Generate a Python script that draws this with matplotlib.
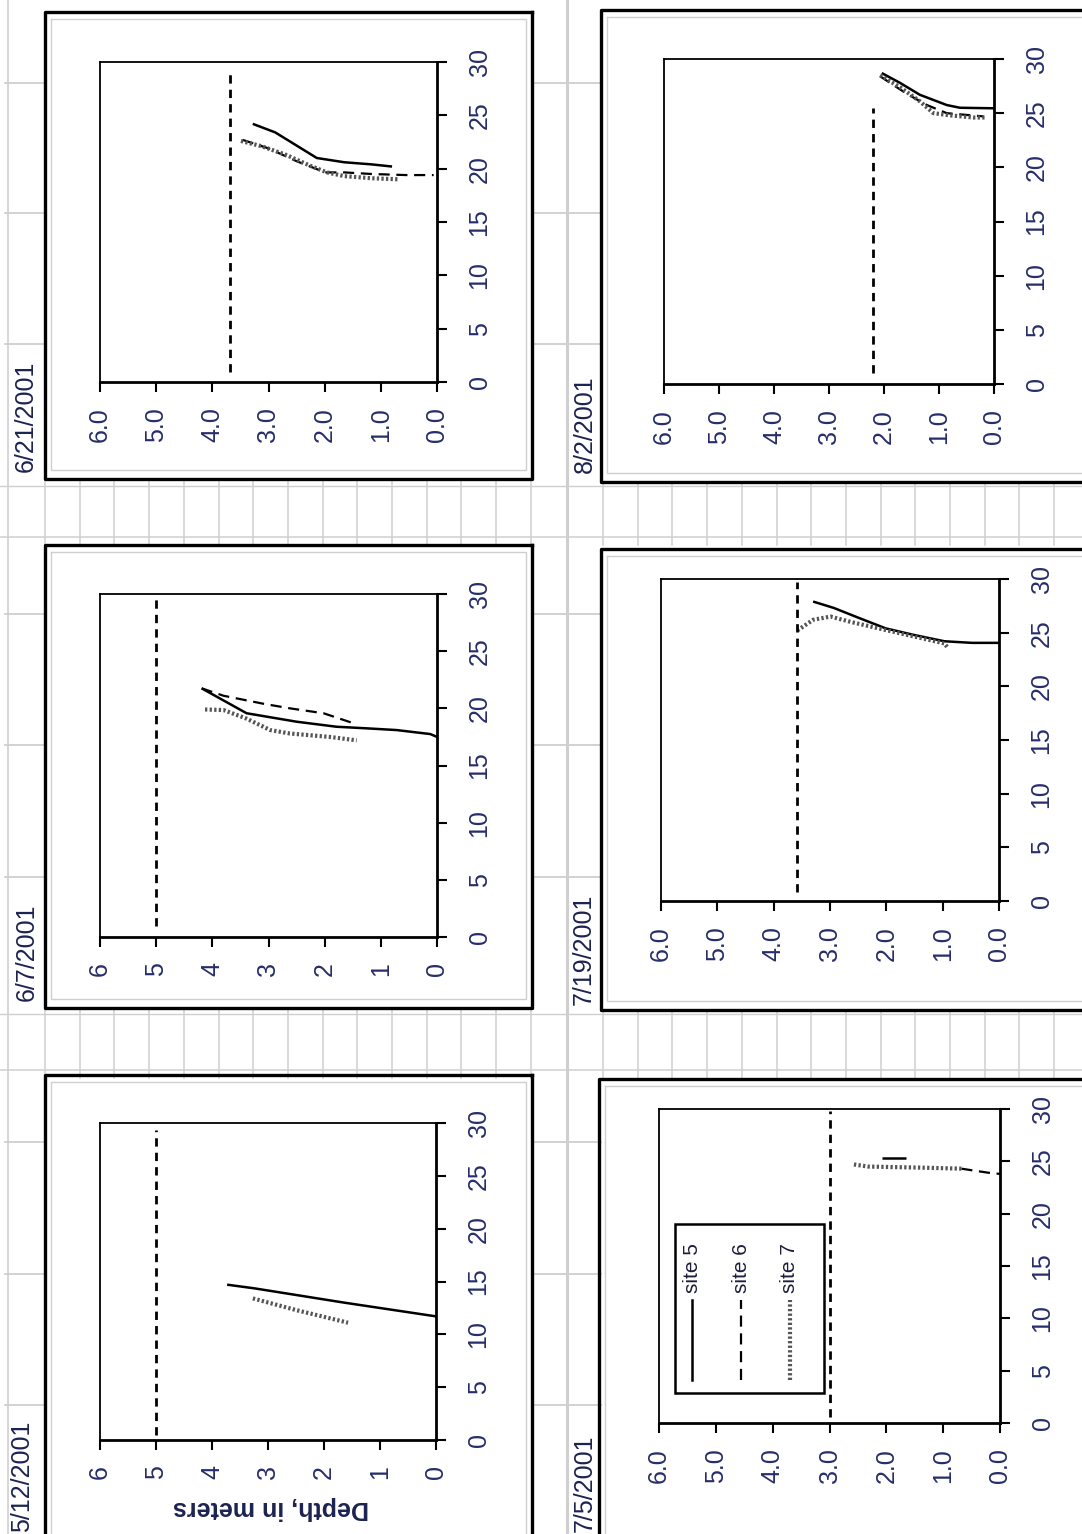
import matplotlib
matplotlib.use("Agg")
import matplotlib.pyplot as plt
from matplotlib.lines import Line2D
from matplotlib.patches import Rectangle
from matplotlib import font_manager

# temperature profiles, deg C against depth in meters, one panel per sampling date
DATES = ["6/21/2001", "8/2/2001", "6/7/2001", "7/19/2001", "5/12/2001", "7/5/2001"]

DEPTH_0621_S5 = [3.28, 2.88, 2.51, 2.14, 1.65, 1.16, 0.80]
TEMP_0621_S5 = [24.2, 23.4, 22.2, 21.0, 20.6, 20.4, 20.2]
DEPTH_0621_S6 = [3.46, 3.0, 2.5, 1.99, 1.65, 1.16, 0.55, 0.06]
TEMP_0621_S6 = [22.7, 21.9, 20.7, 19.65, 19.65, 19.5, 19.4, 19.4]
DEPTH_0621_S7 = [3.49, 3.12, 2.69, 2.27, 1.96, 1.65, 1.16, 0.67]
TEMP_0621_S7 = [22.6, 22.1, 21.3, 20.3, 19.65, 19.3, 19.1, 19.0]

DEPTH_0802_S5 = [2.04, 1.71, 1.35, 0.86, 0.62, 0.0]
TEMP_0802_S5 = [28.7, 27.8, 26.7, 25.75, 25.5, 25.45]
DEPTH_0802_S6 = [2.07, 1.59, 1.22, 0.86, 0.19]
TEMP_0802_S6 = [28.4, 26.8, 25.75, 25.0, 24.7]
DEPTH_0802_S7 = [2.07, 1.71, 1.35, 1.10, 0.80, 0.38, 0.14]
TEMP_0802_S7 = [28.5, 27.4, 26.1, 25.0, 24.8, 24.6, 24.6]

DEPTH_0607_S5 = [4.19, 3.39, 2.50, 1.79, 1.25, 0.72, 0.12, 0.0]
TEMP_0607_S5 = [21.75, 19.57, 18.83, 18.39, 18.25, 18.1, 17.75, 17.5]
DEPTH_0607_S6 = [4.19, 3.80, 3.09, 2.62, 2.02, 1.49]
TEMP_0607_S6 = [21.75, 21.1, 20.4, 20.0, 19.57, 18.7]
DEPTH_0607_S7 = [4.13, 3.80, 3.39, 2.97, 2.62, 1.91, 1.43]
TEMP_0607_S7 = [19.9, 19.85, 19.1, 18.1, 17.8, 17.5, 17.2]

DEPTH_0719_S5 = [3.30, 2.93, 2.50, 2.01, 1.52, 0.97, 0.48, 0.0]
TEMP_0719_S5 = [27.9, 27.3, 26.4, 25.4, 24.8, 24.2, 24.05, 24.05]
DEPTH_0719_S6 = []
TEMP_0719_S6 = []
DEPTH_0719_S7 = [3.58, 3.30, 2.99, 2.63, 2.14, 1.64, 0.97, 0.91]
TEMP_0719_S7 = [25.2, 26.2, 26.5, 26.0, 25.4, 24.8, 24.0, 23.6]

DEPTH_0512_S5 = [3.73, 3.24, 1.64, 0.0]
TEMP_0512_S5 = [14.7, 14.35, 13.0, 11.7]
DEPTH_0512_S6 = []
TEMP_0512_S6 = []
DEPTH_0512_S7 = [3.27, 2.5, 1.57]
TEMP_0512_S7 = [13.4, 12.3, 11.1]

DEPTH_0705_S5 = [2.08, 1.65]
TEMP_0705_S5 = [25.3, 25.3]
DEPTH_0705_S6 = [0.68, 0.44, 0.19, 0.0]
TEMP_0705_S6 = [24.3, 24.1, 23.9, 23.8]
DEPTH_0705_S7 = [2.57, 2.32, 1.41, 0.68]
TEMP_0705_S7 = [24.7, 24.5, 24.4, 24.3]

# water surface (dashed) for each date: depth and the temperature span it is drawn over
SURFACE_DEPTH = [3.69, 2.20, 5.0, 3.59, 5.0, 3.0]
SURFACE_TMIN = [0.9, 1.0, 1.0, 0.8, 0.5, 0.6]
SURFACE_TMAX = [29.2, 25.5, 29.6, 29.7, 29.3, 29.8]

SITES = ["site 5", "site 6", "site 7"]
DEPTH_TICKS = [0, 1, 2, 3, 4, 5, 6]
TEMP_TICKS = [0, 5, 10, 15, 20, 25, 30]

PROFILES = [
    [(DEPTH_0621_S5, TEMP_0621_S5), (DEPTH_0621_S6, TEMP_0621_S6), (DEPTH_0621_S7, TEMP_0621_S7)],
    [(DEPTH_0802_S5, TEMP_0802_S5), (DEPTH_0802_S6, TEMP_0802_S6), (DEPTH_0802_S7, TEMP_0802_S7)],
    [(DEPTH_0607_S5, TEMP_0607_S5), (DEPTH_0607_S6, TEMP_0607_S6), (DEPTH_0607_S7, TEMP_0607_S7)],
    [(DEPTH_0719_S5, TEMP_0719_S5), (DEPTH_0719_S6, TEMP_0719_S6), (DEPTH_0719_S7, TEMP_0719_S7)],
    [(DEPTH_0512_S5, TEMP_0512_S5), (DEPTH_0512_S6, TEMP_0512_S6), (DEPTH_0512_S7, TEMP_0512_S7)],
    [(DEPTH_0705_S5, TEMP_0705_S5), (DEPTH_0705_S6, TEMP_0705_S6), (DEPTH_0705_S7, TEMP_0705_S7)],
]

# page layout in pixels: panel frame, plot box, title anchor, integer depth labels
FRAMES = [(45, 12, 532, 479), (601, 10, 1095, 482), (45, 545, 532, 1008),
          (601, 549, 1095, 1010), (45, 1075, 532, 1545), (599, 1079, 1095, 1545)]
BOXES = [(100, 62, 437, 382), (664, 59, 994, 384), (100, 594, 437, 937),
         (661, 579, 999, 901), (100, 1123, 436, 1440), (659, 1109, 1000, 1423)]
TITLE_AT = [(26, 472), (585, 473), (27, 1001), (584, 1005), (22, 1532), (585, 1532)]
INT_LABELS = [False, False, True, False, True, False]

SITE_STYLE = [dict(color="black", lw=1.8, ls="-"),
              dict(color="black", lw=1.6, ls=(0, (5, 3))),
              dict(color="#555555", lw=3.0, ls=(0, (0.55, 0.55)))]
LABEL_C = "#262d6a"
GHOST = "#cfcfcf"

W, H = 1082, 1534
plt.rcParams["font.family"] = ["Liberation Sans", "DejaVu Sans"]
names = {f.name for f in font_manager.fontManager.ttflist}
title_font = "Liberation Sans Narrow" if "Liberation Sans Narrow" in names else "Liberation Sans"
title_size = 22 if title_font.endswith("Narrow") else 18

fig = plt.figure(figsize=(W / 100, H / 100), dpi=100)
fig.patch.set_facecolor("white")


def fx(x):
    return x / W


def fy(y):
    return 1 - y / H


def fline(xs, ys, **kw):
    fig.add_artist(Line2D([fx(x) for x in xs], [fy(y) for y in ys], **kw))


# faint scan ruling around the panels
fline([567, 567], [0, H], color=GHOST, lw=2.2)
fline([8, 8], [0, H], color=GHOST, lw=1.2)
for y0, y1 in [(482, 545), (1010, 1078)]:
    for x0, x1 in [(45, 532), (603, 1082)]:
        x = x0
        while x <= x1:
            fline([x, x], [y0, y1], color=GHOST, lw=1.1)
            x += 34.7
    fline([0, W], [y1 - 8, y1 - 8], color=GHOST, lw=1.1)
    fline([0, W], [y0 + 4, y0 + 4], color=GHOST, lw=1.0)
for y in [83, 213, 344, 614, 745, 877, 1142, 1274, 1405]:
    fline([5, 45], [y, y], color=GHOST, lw=1.3)
    fline([532, 601], [y, y], color=GHOST, lw=1.3)

for i, date in enumerate(DATES):
    fx0, fy0, fx1, fy1 = FRAMES[i]
    fline([fx0 + 6, fx1 - 6, fx1 - 6, fx0 + 6, fx0 + 6], [fy0 + 7, fy0 + 7, fy1 - 9, fy1 - 9, fy0 + 7],
          color=GHOST, lw=1.0)
    fline([fx1, fx0, fx0, fx1, fx1], [fy0, fy0, fy1, fy1, fy0], color="black", lw=2.4)

    bx0, by0, bx1, by1 = BOXES[i]
    ax = fig.add_axes([fx(bx0), fy(by1), (bx1 - bx0) / W, (by1 - by0) / H])
    ax.set_facecolor("white")

    for (depth, temp), st in zip(PROFILES[i], SITE_STYLE):
        if depth:
            ax.plot(depth, temp, solid_capstyle="butt", **st)
    ax.plot([SURFACE_DEPTH[i], SURFACE_DEPTH[i]], [SURFACE_TMIN[i], SURFACE_TMAX[i]],
            color="black", lw=2.0, ls=(0, (3, 2.2)))

    ax.set_xlim(6, 0)
    ax.set_ylim(0, 30)
    if INT_LABELS[i]:
        depth_labels = [str(d) for d in DEPTH_TICKS]
    else:
        depth_labels = [f"{d:.1f}" for d in DEPTH_TICKS]
    ax.set_xticks(DEPTH_TICKS, depth_labels, rotation=90, va="top", ha="center")
    ax.yaxis.tick_right()
    ax.set_yticks(TEMP_TICKS, [str(t) for t in TEMP_TICKS], rotation=90, va="center", ha="left")
    ax.tick_params(axis="x", direction="out", length=7, width=1.5, pad=11, labelsize=18, labelcolor=LABEL_C)
    ax.tick_params(axis="y", direction="out", length=7, width=1.5, pad=15, labelsize=18, labelcolor=LABEL_C)
    for side in ("top", "left"):
        ax.spines[side].set_linewidth(1.3)
    for side in ("bottom", "right"):
        ax.spines[side].set_linewidth(2.0)

    tx, ty = TITLE_AT[i]
    fig.text(fx(tx), fy(ty), date, rotation=90, ha="center", va="bottom",
             fontsize=title_size, family=title_font, color="#1d2350")

    if date == "5/12/2001":
        fig.text(fx(271), fy(1508), "Depth, in meters", rotation=180, ha="center", va="center",
                 fontsize=18, weight="bold", color="#1d2350")

    if date == "7/5/2001":
        # legend box, drawn turned with the page
        ax.add_patch(Rectangle((0.047, 0.096), 0.437, 0.538, transform=ax.transAxes,
                               facecolor="none", edgecolor="black", lw=1.8))
        for k, (name, st) in enumerate(zip(SITES, SITE_STYLE)):
            lx = 0.097 + 0.1435 * k
            ax.add_line(Line2D([lx, lx], [0.137, 0.392], transform=ax.transAxes, **st))
            ax.text(lx, 0.414, name, transform=ax.transAxes, rotation=90, ha="center", va="bottom",
                    fontsize=15, color="#1d1d3a")

fig.savefig("out.png", dpi=100, facecolor="white")
